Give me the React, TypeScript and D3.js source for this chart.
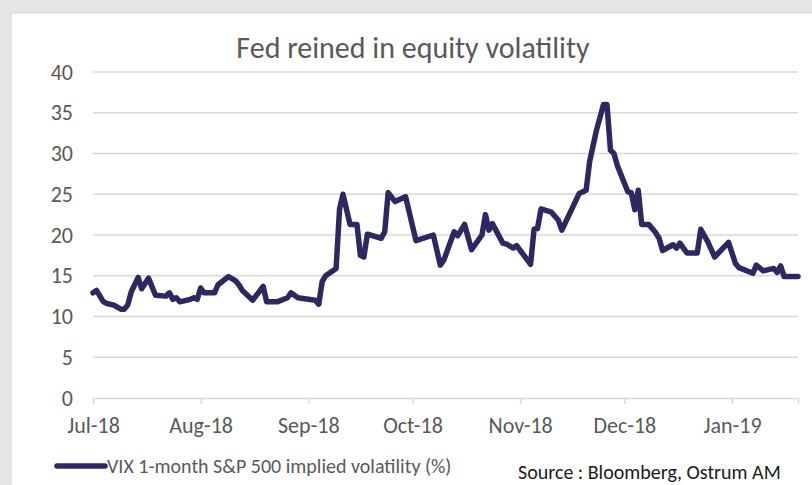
import React, { useRef, useEffect } from "react";
import * as d3 from "d3";

// VIX readings (dates follow the chart's own axis)
const dates = [
  "2018-07-01", "2018-07-02", "2018-07-04", "2018-07-05", "2018-07-07", "2018-07-09", "2018-07-10", "2018-07-11",
  "2018-07-12", "2018-07-14", "2018-07-15", "2018-07-17", "2018-07-19", "2018-07-22", "2018-07-23", "2018-07-24",
  "2018-07-25", "2018-07-26", "2018-07-29", "2018-07-30", "2018-07-31", "2018-08-01", "2018-08-02", "2018-08-05",
  "2018-08-06", "2018-08-09", "2018-08-11", "2018-08-12", "2018-08-13", "2018-08-16", "2018-08-19", "2018-08-20",
  "2018-08-23", "2018-08-26", "2018-08-27", "2018-08-29", "2018-09-03", "2018-09-04", "2018-09-05", "2018-09-06",
  "2018-09-09", "2018-09-10", "2018-09-11", "2018-09-13", "2018-09-15", "2018-09-16", "2018-09-17", "2018-09-18",
  "2018-09-22", "2018-09-23", "2018-09-24", "2018-09-26", "2018-09-29", "2018-10-02", "2018-10-07", "2018-10-09",
  "2018-10-10", "2018-10-13", "2018-10-14", "2018-10-16", "2018-10-18", "2018-10-21", "2018-10-22", "2018-10-23",
  "2018-10-24", "2018-10-27", "2018-10-28", "2018-10-30", "2018-10-31", "2018-11-04", "2018-11-05", "2018-11-06",
  "2018-11-07", "2018-11-10", "2018-11-12", "2018-11-13", "2018-11-18", "2018-11-20", "2018-11-21", "2018-11-23",
  "2018-11-25", "2018-11-26", "2018-11-27", "2018-11-28", "2018-11-29", "2018-12-02", "2018-12-03", "2018-12-04",
  "2018-12-05", "2018-12-06", "2018-12-08", "2018-12-10", "2018-12-11", "2018-12-12", "2018-12-15", "2018-12-16",
  "2018-12-17", "2018-12-18", "2018-12-19", "2018-12-22", "2018-12-23", "2018-12-25", "2018-12-27", "2018-12-31",
  "2019-01-02", "2019-01-03", "2019-01-07", "2019-01-08", "2019-01-10", "2019-01-13", "2019-01-14", "2019-01-15",
  "2019-01-16", "2019-01-20",
];
const vix = [
  12.9, 13.2, 11.8, 11.6, 11.4, 10.9, 10.9, 11.4,
  13.0, 14.8, 13.4, 14.7, 12.6, 12.5, 12.9, 12.1,
  12.3, 11.8, 12.1, 12.3, 12.1, 13.5, 12.9, 12.9,
  13.9, 14.9, 14.4, 13.9, 13.2, 12.0, 13.7, 11.8,
  11.8, 12.3, 12.9, 12.3, 12.0, 11.5, 14.3, 15.0,
  15.9, 23.2, 25.0, 21.3, 21.3, 17.5, 17.3, 20.1,
  19.6, 20.4, 25.2, 24.1, 24.7, 19.3, 20.0, 16.3,
  16.9, 20.4, 19.9, 21.3, 18.2, 20.0, 22.5, 20.6,
  21.4, 19.0, 18.9, 18.4, 18.7, 16.4, 20.7, 20.8,
  23.2, 22.8, 21.8, 20.6, 25.1, 25.5, 29.0, 32.9,
  36.0, 36.0, 30.4, 30.0, 28.5, 25.3, 25.2, 23.1,
  25.5, 21.3, 21.3, 20.3, 19.6, 18.1, 18.8, 18.4,
  19.0, 18.4, 17.8, 17.8, 20.7, 19.2, 17.3, 19.1,
  16.5, 16.0, 15.3, 16.3, 15.6, 15.9, 15.4, 16.2,
  14.9, 14.9,
];

const yTicks = [0, 5, 10, 15, 20, 25, 30, 35, 40];
const monthTicks = ["2018-07-01", "2018-08-01", "2018-09-01", "2018-10-01", "2018-11-01", "2018-12-01", "2019-01-01"];
const monthLabels = ["Jul-18", "Aug-18", "Sep-18", "Oct-18", "Nov-18", "Dec-18", "Jan-19"];

const title = "Fed reined in equity volatility";
const seriesName = "VIX 1-month S&P 500 implied volatility (%)";
const source = "Source : Bloomberg, Ostrum AM";

const App = () => {
  const ref = useRef<SVGSVGElement>(null);

  useEffect(() => {
    const svg = d3.select(ref.current);
    svg.selectAll("*").remove();

    const width = 812;
    const height = 485;
    const margin = { top: 72, right: 14, bottom: 87, left: 93 };
    const font = "Carlito, Calibri, Lato, sans-serif";
    const grey = "#595959";
    const lineColor = "#2b2862";
    const parse = d3.timeParse("%Y-%m-%d");

    const data = dates.map((d, i) => ({ date: parse(d) as Date, v: vix[i] }));

    // background + panel
    svg.append("rect").attr("width", width).attr("height", height).attr("fill", "#e6e6e6");
    svg.append("rect")
      .attr("x", 11).attr("y", 13)
      .attr("width", width).attr("height", height)
      .attr("fill", "#fff")
      .attr("stroke", "#d6d6d6");

    const x = d3.scaleTime()
      .domain([parse("2018-07-01") as Date, parse("2019-01-20") as Date])
      .range([margin.left, width - margin.right]);

    const y = d3.scaleLinear()
      .domain([0, 40])
      .range([height - margin.bottom, margin.top]);

    // gridlines
    svg.append("g")
      .selectAll("line")
      .data(yTicks.filter(t => t > 0))
      .join("line")
      .attr("x1", x.range()[0]).attr("x2", x.range()[1])
      .attr("y1", d => y(d)).attr("y2", d => y(d))
      .attr("stroke", "#d9d9d9")
      .attr("stroke-width", 1.5);

    // y labels
    svg.append("g")
      .selectAll("text")
      .data(yTicks)
      .join("text")
      .attr("x", 73)
      .attr("y", d => y(d))
      .attr("dy", "0.35em")
      .attr("text-anchor", "end")
      .attr("font-family", font)
      .attr("font-size", 22)
      .attr("fill", grey)
      .text(d => d);

    // x axis
    const xAxis = svg.append("g")
      .attr("transform", `translate(0,${y(0)})`)
      .call(
        d3.axisBottom(x)
          .tickValues(monthTicks.map(m => parse(m) as Date))
          .tickFormat((_, i) => monthLabels[i])
          .tickSize(6)
          .tickSizeOuter(6)
          .tickPadding(13)
      );
    xAxis.select(".domain").attr("stroke", "#d9d9d9").attr("stroke-width", 1.5);
    xAxis.selectAll(".tick line").attr("stroke", "#d9d9d9").attr("stroke-width", 1.5);
    xAxis.selectAll(".tick text")
      .attr("font-family", font)
      .attr("font-size", 22)
      .attr("fill", grey);

    // line
    const line = d3.line<{ date: Date; v: number }>()
      .x(d => x(d.date))
      .y(d => y(d.v));

    svg.append("path")
      .datum(data)
      .attr("d", line)
      .attr("fill", "none")
      .attr("stroke", lineColor)
      .attr("stroke-width", 5.5)
      .attr("stroke-linejoin", "round")
      .attr("stroke-linecap", "round");

    // title
    svg.append("text")
      .attr("x", 413).attr("y", 58)
      .attr("text-anchor", "middle")
      .attr("font-family", font)
      .attr("font-size", 30)
      .attr("font-weight", 300)
      .attr("fill", grey)
      .text(title);

    // legend
    svg.append("line")
      .attr("x1", 57).attr("x2", 105)
      .attr("y1", 466).attr("y2", 466)
      .attr("stroke", lineColor)
      .attr("stroke-width", 5.5)
      .attr("stroke-linecap", "round");
    svg.append("text")
      .attr("x", 107).attr("y", 466)
      .attr("dy", "0.35em")
      .attr("font-family", font)
      .attr("font-size", 20)
      .attr("fill", grey)
      .text(seriesName);

    svg.append("text")
      .attr("x", 518).attr("y", 472)
      .attr("dy", "0.35em")
      .attr("font-family", font)
      .attr("font-size", 20)
      .attr("fill", "#1a1a1a")
      .text(source);
  }, []);

  return (
    <div style={{ position: "absolute", left: 0, top: 0 }}>
      <svg ref={ref} width={812} height={485} style={{ display: "block" }}></svg>
    </div>
  );
};

export default App;
